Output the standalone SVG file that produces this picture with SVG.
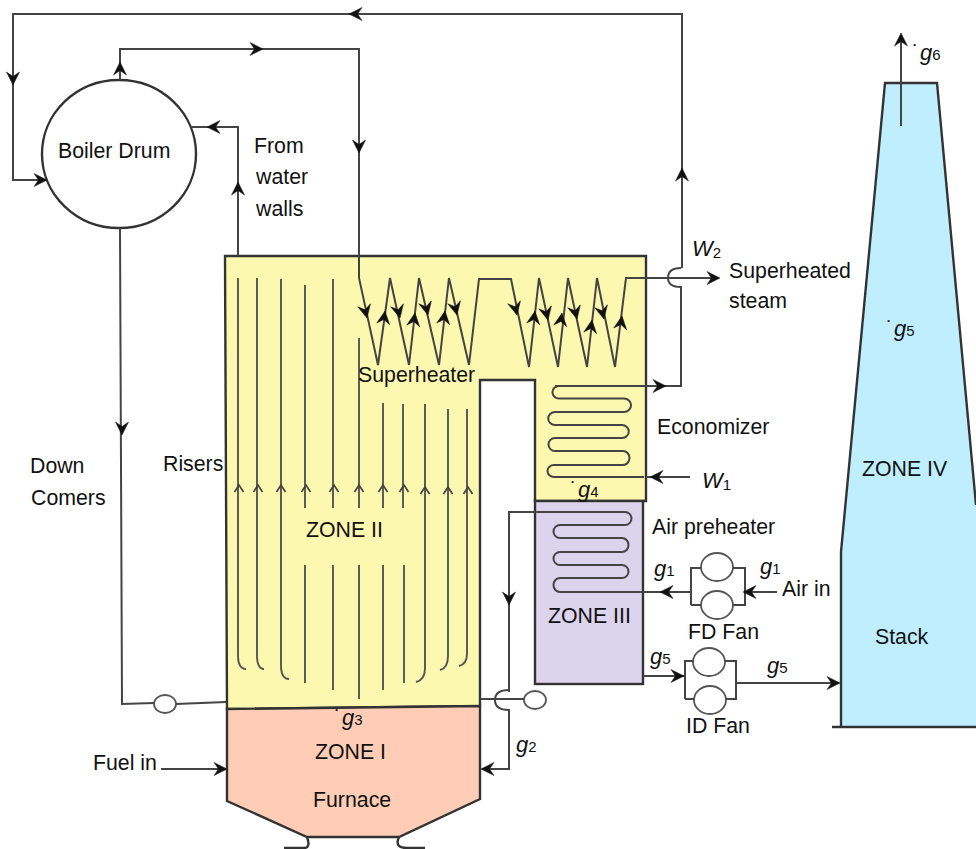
<svg xmlns="http://www.w3.org/2000/svg" width="976" height="849" viewBox="0 0 976 849">
<style>
text{font-family:"Liberation Sans",Arial,sans-serif;font-size:21.3px;fill:#111}
.i{font-style:italic;font-size:22px}
.s{font-size:15px;font-style:normal}
.w{fill:none;stroke:#333;stroke-width:2.4;stroke-linejoin:miter}
.l{fill:none;stroke:#444;stroke-width:2}
.c{fill:#fff;stroke:#555;stroke-width:1.8}
.r{fill:none;stroke:#555;stroke-width:1.9}
</style>
<defs>
<path id="ah" d="M0,0 L-13,-6.5 L-8.5,0 L-13,6.5 Z" fill="#111" stroke="#111" stroke-width=".5"/>
<path id="rh" d="M-7,-4.5 L0,0 L-7,4.5" fill="none" stroke="#444" stroke-width="1.7"/>
</defs>
<rect width="976" height="849" fill="#fff"/>
<g id="boiler-zone-ii">
<path d="M225,256 H646 V501 H535 V380 H480 V706 L227,709 Z" fill="#fdf8b0" stroke="#333" stroke-width="2.4"/>
</g>
<g id="furnace-zone-i">
<path d="M227,709 L480,706 V799 L399,837 H307 L227,801 Z" fill="#ffcdb6" stroke="#333" stroke-width="2.4"/>
<path d="M307,837 Q311,848 304,848 H284 M399,837 Q394,848 407,848 H425" class="w"/>
</g>
<g id="zone-iii">
<rect x="535" y="501" width="108" height="183" fill="#dcd3ec" stroke="#333" stroke-width="2.4"/>
</g>
<g id="stack-zone-iv">
<path d="M885,83 H937 L976,505 V727 H841 V552 Z" fill="#bfefff"/>
<path d="M976,505 L937,83 H885 L841,552 V727" class="w"/>
<path d="M832,727 H976" class="w"/>
</g>
<g id="boiler-drum"><ellipse cx="119" cy="154" rx="77" ry="74" fill="#fff" stroke="#333" stroke-width="2.4"/></g>
<g id="fd-fan">
<ellipse cx="717" cy="567" rx="16" ry="14" class="c"/>
<ellipse cx="717" cy="605" rx="16" ry="14" class="c"/>
</g>
<g id="id-fan">
<ellipse cx="709" cy="662" rx="16" ry="14" class="c"/>
<ellipse cx="710" cy="700" rx="16" ry="14" class="c"/>
</g>
<g id="valve-downcomer"><ellipse cx="165" cy="704" rx="11" ry="9" class="c"/></g>
<g id="valve-air"><ellipse cx="535" cy="700" rx="11" ry="9" class="c"/></g>
<g id="connectors">
<g class="l">
<path d="M682,268 V14 H13 V180 H46"/>
<path d="M681,268 Q668,268 668,278 Q668,287 681,287 V386 H555"/>
<path d="M120,80 V49 H359 V278 L378,365 L390,278 L409,365 L419,278 L439,365 L449,278 L469,365 L479,279 H511 L529,367 L539,278 L558,367 L568,278 L587,367 L597,278 L615,367 L626,278 H718"/>
<path d="M238,256 V127 H192"/>
<path d="M120,228 L122,704 L154,703 M176,704 L226,702"/>
<path d="M161,769 H226"/>
<path d="M679,386 H559 a6.5,6.2 0 0 0 0,12.5 H624 a7,6.7 0 0 1 0,13.5 H555 a6.5,6.2 0 0 0 0,13 H622 a6.5,6.2 0 0 1 0,13 H555 a6.5,6.5 0 0 0 0,13 H623 a6.5,7 0 0 1 0,14 H554 a6.5,6 0 0 0 0,12 H644"/>
<path d="M646,477 H690"/>
<path d="M509,692 V512 H625 a6.5,6.5 0 0 1 0,13 H560 a6.5,6.5 0 0 0 0,13 H622 a6.5,7 0 0 1 0,14 H560 a6.5,6.5 0 0 0 0,13 H622 a6.5,6.5 0 0 1 0,13 H560 a6.5,7 0 0 0 0,14 H691"/>
<path d="M509,690 Q495,690 495,700 Q495,710 509,710 V769 H482"/>
<path d="M480,699 H524"/>
<path d="M691,605 V568 H701 M733,568 H745 V605 H733 M701,605 H691"/>
<path d="M777,592 H745"/>
<path d="M685,699 V661 H693 M725,661 H736 V699 H726 M694,699 H685"/>
<path d="M643,676 H684"/>
<path d="M736,683 H839"/>
<path d="M901,126 V35"/>
</g>
<g class="r">
<path d="M238,278 V655 Q238,669 246,669"/>
<path d="M257,278 V655 Q257,669 264,669"/>
<path d="M281,279 V665 Q281,679 289,679"/>
<path d="M305,285 V508 M305,565 V683"/>
<path d="M333,279 V508 M333,565 V690"/>
<path d="M359,338 V508 M359,565 V699"/>
<path d="M383,403 V508 M383,565 V690"/>
<path d="M403,404 V508 M404,565 V683"/>
<path d="M425,404 V668 Q425,680 416,682"/>
<path d="M448,409 V656 Q448,668 440,670"/>
<path d="M467,409 V654 Q467,664 459,666"/>
</g>
<use href="#rh" transform="translate(239,485) rotate(-90)"/>
<use href="#rh" transform="translate(258,485) rotate(-90)"/>
<use href="#rh" transform="translate(281,485) rotate(-90)"/>
<use href="#rh" transform="translate(306,485) rotate(-90)"/>
<use href="#rh" transform="translate(334,485) rotate(-90)"/>
<use href="#rh" transform="translate(359,485) rotate(-90)"/>
<use href="#rh" transform="translate(383,485) rotate(-90)"/>
<use href="#rh" transform="translate(404,485) rotate(-90)"/>
<use href="#rh" transform="translate(425,487) rotate(-90)"/>
<use href="#rh" transform="translate(448,487) rotate(-90)"/>
<use href="#rh" transform="translate(468,487) rotate(-90)"/>
<use href="#ah" transform="translate(349,14) rotate(180)"/>
<use href="#ah" transform="translate(13,85) rotate(90)"/>
<use href="#ah" transform="translate(47,180)"/>
<use href="#ah" transform="translate(120,62) rotate(-90)"/>
<use href="#ah" transform="translate(263,49)"/>
<use href="#ah" transform="translate(359,153) rotate(90)"/>
<use href="#ah" transform="translate(207,127) rotate(180)"/>
<use href="#ah" transform="translate(238,182) rotate(-90)"/>
<use href="#ah" transform="translate(122,435) rotate(90)"/>
<use href="#ah" transform="translate(227,769)"/>
<use href="#ah" transform="translate(682,168) rotate(-90)"/>
<use href="#ah" transform="translate(720,278)"/>
<use href="#ah" transform="translate(666,386)"/>
<use href="#ah" transform="translate(650,477) rotate(180)"/>
<use href="#ah" transform="translate(509,605) rotate(90)"/>
<use href="#ah" transform="translate(481,769) rotate(180)"/>
<use href="#ah" transform="translate(660,592) rotate(180)"/>
<use href="#ah" transform="translate(743,592) rotate(180)"/>
<use href="#ah" transform="translate(684,676)"/>
<use href="#ah" transform="translate(840,683)"/>
<use href="#ah" transform="translate(901,33) rotate(-90)"/>
<use href="#ah" transform="translate(367,318) rotate(77)"/>
<use href="#ah" transform="translate(400,318) rotate(77)"/>
<use href="#ah" transform="translate(428,315) rotate(77)"/>
<use href="#ah" transform="translate(457,315) rotate(77)"/>
<use href="#ah" transform="translate(517,315) rotate(77)"/>
<use href="#ah" transform="translate(548,320) rotate(77)"/>
<use href="#ah" transform="translate(577,319) rotate(77)"/>
<use href="#ah" transform="translate(604,319) rotate(77)"/>
<use href="#ah" transform="translate(385,311) rotate(-82)"/>
<use href="#ah" transform="translate(415,313) rotate(-82)"/>
<use href="#ah" transform="translate(445,311) rotate(-82)"/>
<use href="#ah" transform="translate(535,311) rotate(-82)"/>
<use href="#ah" transform="translate(562,313) rotate(-82)"/>
<use href="#ah" transform="translate(592,320) rotate(-82)"/>
<use href="#ah" transform="translate(622,316) rotate(-82)"/>
</g>
<g id="labels">
<text x="58" y="158">Boiler Drum</text>
<text x="254" y="153">From</text>
<text x="256" y="184">water</text>
<text x="256" y="216">walls</text>
<text x="729" y="278">Superheated</text>
<text x="729" y="308">steam</text>
<text x="358" y="382">Superheater</text>
<text x="657" y="434">Economizer</text>
<text x="652" y="534">Air preheater</text>
<text x="782" y="596">Air in</text>
<text x="688" y="639">FD Fan</text>
<text x="686" y="733">ID Fan</text>
<text x="875" y="644">Stack</text>
<text x="862" y="476">ZONE IV</text>
<text x="548" y="623">ZONE III</text>
<text x="306" y="537">ZONE II</text>
<text x="315" y="759">ZONE I</text>
<text x="313" y="807">Furnace</text>
<text x="30" y="473">Down</text>
<text x="31" y="505">Comers</text>
<text x="163" y="471">Risers</text>
<text x="93" y="770">Fuel in</text>
<text x="692" y="256" class="i">W<tspan class="s" dy="2">2</tspan></text>
<text x="702" y="488" class="i">W<tspan class="s" dy="2">1</tspan></text>
<text x="654" y="576" class="i">g<tspan class="s">1</tspan></text>
<text x="760" y="574" class="i">g<tspan class="s">1</tspan></text>
<text x="516" y="752" class="i">g<tspan class="s">2</tspan></text>
<text x="650" y="664" class="i">g<tspan class="s">5</tspan></text>
<text x="767" y="673" class="i">g<tspan class="s">5</tspan></text>
<text x="334" y="725">˙</text><text x="342" y="725" class="i">g<tspan class="s">3</tspan></text>
<text x="570" y="497">˙</text><text x="578" y="497" class="i">g<tspan class="s">4</tspan></text>
<text x="886" y="336">˙</text><text x="894" y="336" class="i">g<tspan class="s">5</tspan></text>
<text x="912" y="60">˙</text><text x="920" y="60" class="i">g<tspan class="s">6</tspan></text>
</g>
</svg>
